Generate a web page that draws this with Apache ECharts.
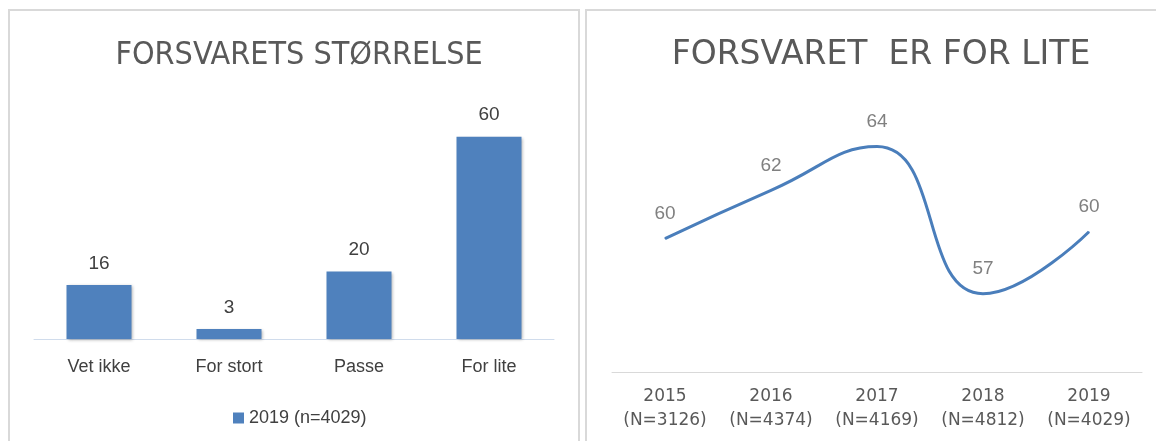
<!DOCTYPE html>
<html>
<head>
<meta charset="utf-8">
<script src="https://cdn.jsdelivr.net/npm/echarts@6/dist/echarts.min.js"></script>
<style>
  html, body { margin: 0; padding: 0; background: #fff; }
  #chart { width: 1156px; height: 441px; }
</style>
</head>
<body>
<div id="chart"></div>
<script>
// venstre: forsvarets størrelse
const barCategories = ['Vet ikke', 'For stort', 'Passe', 'For lite'];
const barValues = [16, 3, 20, 60];
const barSeriesName = '2019 (n=4029)';

// høyre: forsvaret er for lite
const years = ['2015', '2016', '2017', '2018', '2019'];
const yearN = ['3126', '4374', '4169', '4812', '4029'];
const lineValues = [59.8, 61.9, 63.8, 57.4, 60.1];

const yearLabels = years.map((y, i) => y + '\n(N=' + yearN[i] + ')');

const chart = echarts.init(document.getElementById('chart'));

const option = {
    animation: false,
    title: [
        {
            text: 'FORSVARETS STØRRELSE',
            left: 294, top: 35, textAlign: 'center',
            textStyle: {
                fontFamily: "'Liberation Sans Narrow', 'DejaVu Sans Condensed', 'Liberation Sans', sans-serif",
                fontSize: 32, fontWeight: 'normal', color: '#595959'
            }
        },
        {
            text: 'FORSVARET  ER FOR LITE',
            left: 876, top: 34, textAlign: 'center',
            textStyle: {
                fontFamily: "'DejaVu Sans', sans-serif",
                fontSize: 33, fontWeight: 'normal', color: '#595959'
            }
        }
    ],
    // panelrammer
    graphic: [
        {
            type: 'rect', silent: true,
            shape: { x: 9, y: 10, width: 570, height: 500 },
            style: { fill: 'none', stroke: '#d9d9d9', lineWidth: 2 }
        },
        {
            type: 'rect', silent: true,
            shape: { x: 586, y: 10, width: 620, height: 500 },
            style: { fill: 'none', stroke: '#d9d9d9', lineWidth: 2 }
        }
    ],
    legend: {
        data: [barSeriesName],
        left: 228, top: 404,
        icon: 'rect', itemWidth: 11, itemHeight: 11, itemGap: 5,
        textStyle: {
            fontFamily: "'Liberation Sans', sans-serif",
            fontSize: 18, color: '#404040', lineHeight: 18
        }
    },
    grid: [
        { left: 34, right: 602, top: 103, bottom: 102 },
        { left: 612, right: 14, top: 96, bottom: 69 }
    ],
    xAxis: [
        {
            gridIndex: 0, type: 'category', data: barCategories,
            axisLine: { lineStyle: { color: '#d0dcec', width: 1 } },
            axisTick: { show: false },
            axisLabel: {
                margin: 19, color: '#404040', fontSize: 18,
                fontFamily: "'Liberation Sans', sans-serif"
            }
        },
        {
            gridIndex: 1, type: 'category', data: yearLabels,
            axisLine: { lineStyle: { color: '#d9d9d9', width: 1 } },
            axisTick: { show: false },
            axisLabel: {
                interval: 0,
                margin: 13, color: '#595959', fontSize: 17, lineHeight: 24,
                fontFamily: "'DejaVu Sans', sans-serif"
            }
        }
    ],
    yAxis: [
        { gridIndex: 0, type: 'value', min: 0, max: 70, show: false },
        { gridIndex: 1, type: 'value', min: 54, max: 66, show: false }
    ],
    series: [
        {
            name: barSeriesName, type: 'bar',
            xAxisIndex: 0, yAxisIndex: 0,
            data: barValues, barWidth: 65,
            itemStyle: {
                color: '#4f81bd',
                shadowColor: 'rgba(0,0,0,0.3)', shadowBlur: 3,
                shadowOffsetX: 1, shadowOffsetY: 1
            },
            label: {
                show: true, position: 'top', distance: 12,
                color: '#404040', fontSize: 19,
                fontFamily: "'Liberation Sans', sans-serif"
            }
        },
        {
            name: 'Forsvaret er for lite', type: 'line',
            xAxisIndex: 1, yAxisIndex: 1,
            data: lineValues, smooth: 0.5,
            symbol: 'circle', symbolSize: 1,
            lineStyle: { color: '#4a7ebb', width: 3 },
            itemStyle: { color: '#4a7ebb' },
            label: {
                show: true, position: 'top', distance: 15,
                color: '#808080', fontSize: 19,
                fontFamily: "'Liberation Sans', sans-serif",
                formatter: p => Math.round(p.value)
            }
        }
    ]
};

chart.setOption(option);
</script>
</body>
</html>
